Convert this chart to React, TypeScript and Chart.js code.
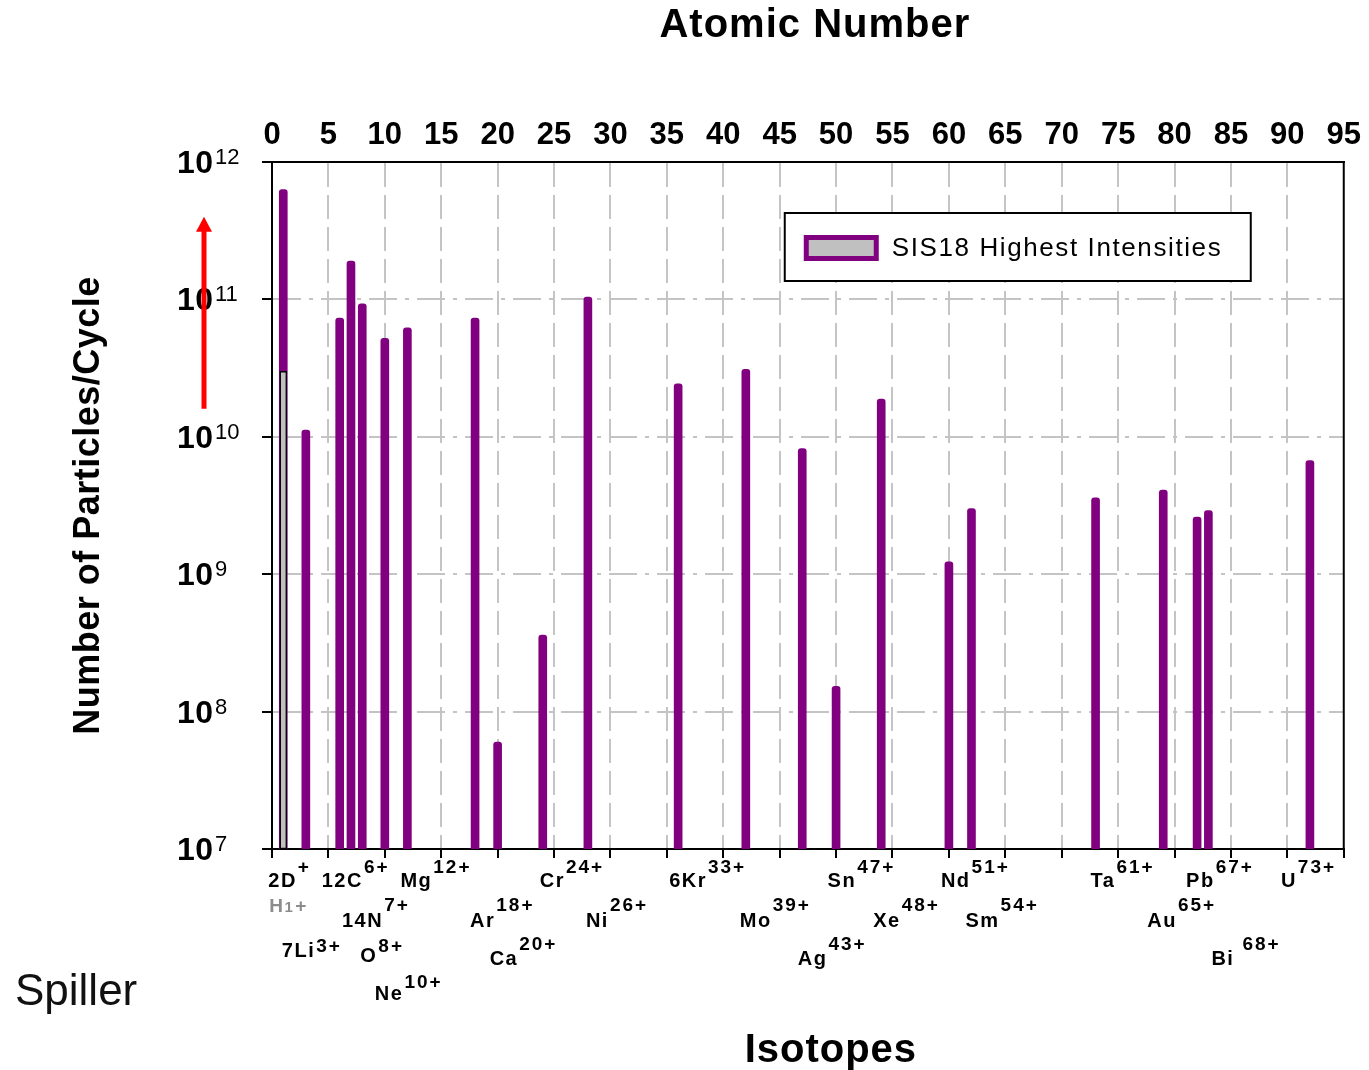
import React, { useEffect, useRef } from 'react';
import { Chart, registerables } from 'chart.js';

Chart.register(...registerables);

// ---------------- data ----------------
const ATOMIC_NUMBERS = [1, 3, 6, 7, 8, 10, 12, 18, 20, 24, 28, 36, 42, 47, 50, 54, 60, 62, 73, 79, 82, 83, 92];
const INTENSITIES = [
  6.3e11, 1.12e10, 7.3e10, 1.9e11, 9.3e10, 5.2e10, 6.2e10, 7.3e10, 6.0e7, 3.6e8, 1.04e11, 2.43e10,
  3.1e10, 8.2e9, 1.53e8, 1.88e10, 1.23e9, 3.0e9, 3.6e9, 4.1e9, 2.6e9, 2.9e9, 6.7e9,
];
const ISOTOPE_NAMES = ['2D', '7Li', '12C', '14N', 'O', 'Ne', 'Mg', 'Ar', 'Ca', 'Cr', 'Ni', '6Kr', 'Mo', 'Ag', 'Sn', 'Xe', 'Nd', 'Sm', 'Ta', 'Au', 'Pb', 'Bi ', 'U'];
const CHARGE_STATES = ['+', '3+', '6+', '7+', '8+', '10+', '12+', '18+', '20+', '24+', '26+', '33+', '39+', '43+', '47+', '48+', '51+', '54+', '61+', '65+', '67+', '68+', '73+'];
const PROTON_Z = [1];
const PROTON_INTENSITY = [3.0e10];
const Y_TICK_EXPONENTS = [7, 8, 9, 10, 11, 12];
const X_MIN = 0;
const X_MAX = 95;
const X_STEP = 5;
const SERIES_LABEL = 'SIS18 Highest Intensities';
const PROTON_LABEL = ['H', '1', '+'];
const ARROW_FROM = 1.6e10;
const ARROW_TO = 4.0e11;
const TOP_TITLE = 'Atomic Number';
const BOTTOM_TITLE = 'Isotopes';
const Y_TITLE = 'Number of Particles/Cycle';
const CORNER_NOTE = 'Spiller';

// ---------------- layout / style ----------------
const W = 1369;
const H = 1070;
const FONT = '"Liberation Sans", Arial, sans-serif';
const PURPLE = '#800080';
const LEGEND_FILL = '#c0c0c0';
// [x offset from bar, base baseline below axis, superscript baseline below axis]
const LABEL_LAYOUT: number[][] = [
  [-15, 38, 24], [-24, 108, 103], [-18, 38, 24], [-9, 78, 62], [-2, 113, 103], [-10, 151, 139],
  [-7, 38, 24], [-5, 78, 62], [-8, 116, 101], [-3, 38, 24], [-2, 78, 62], [-9, 38, 24],
  [-6, 78, 62], [-4.5, 116, 101], [-8.5, 38, 24], [-8, 78, 62], [-8, 38, 24], [-6, 78, 62],
  [-5, 38, 24], [-16, 78, 62], [-11, 38, 24], [3, 116, 101], [-29, 38, 24],
];

const setLS = (ctx: any, v: string) => {
  try { ctx.letterSpacing = v; } catch (e) { /* ignore */ }
};

const annotations = {
  id: 'annotations',
  afterDraw(chart: any) {
    const { ctx, chartArea: ca, scales } = chart;
    const xs = scales.x;
    const ys = scales.y;
    ctx.save();

    // right frame line
    ctx.strokeStyle = '#000';
    ctx.lineWidth = 2;
    ctx.beginPath();
    ctx.moveTo(ca.right, ca.top - 1);
    ctx.lineTo(ca.right, ca.bottom + 1);
    ctx.stroke();

    // y tick labels 10^n
    ctx.fillStyle = '#000';
    ctx.textAlign = 'left';
    ctx.textBaseline = 'alphabetic';
    Y_TICK_EXPONENTS.forEach((e) => {
      const p = ys.getPixelForValue(Math.pow(10, e));
      ctx.font = `bold 32px ${FONT}`;
      setLS(ctx, '0.5px');
      ctx.fillText('10', ca.left - 95, p + 11);
      ctx.font = `22px ${FONT}`;
      setLS(ctx, '0px');
      ctx.fillText(String(e), ca.left - 57, p + 2);
    });

    // isotope labels
    ATOMIC_NUMBERS.forEach((z, i) => {
      const [dx, by, sy] = LABEL_LAYOUT[i];
      const x = xs.getPixelForValue(z) + dx;
      ctx.fillStyle = '#000';
      ctx.font = `bold 20px ${FONT}`;
      setLS(ctx, '1.5px');
      ctx.fillText(ISOTOPE_NAMES[i], x, ca.bottom + by);
      const w = ctx.measureText(ISOTOPE_NAMES[i]).width;
      ctx.font = `bold 19px ${FONT}`;
      setLS(ctx, '2px');
      ctx.fillText(CHARGE_STATES[i], x + w + 1, ca.bottom + sy);
    });
    // proton label (grey)
    {
      let x = xs.getPixelForValue(PROTON_Z[0]) - 14;
      const y = ca.bottom + 63;
      ctx.fillStyle = '#8c8c8c';
      setLS(ctx, '1.5px');
      ctx.font = `bold 19px ${FONT}`;
      ctx.fillText(PROTON_LABEL[0], x, y);
      x += ctx.measureText(PROTON_LABEL[0]).width;
      ctx.font = `bold 15px ${FONT}`;
      ctx.fillText(PROTON_LABEL[1], x, y);
      x += ctx.measureText(PROTON_LABEL[1]).width + 1;
      ctx.font = `bold 19px ${FONT}`;
      ctx.fillText(PROTON_LABEL[2], x, y);
    }
    setLS(ctx, '0px');

    // legend
    const ds = chart.data.datasets[0];
    const lx = ca.right - 559;
    const ly = ca.top + 51;
    ctx.fillStyle = '#fff';
    ctx.fillRect(lx, ly, 466, 68);
    ctx.strokeStyle = '#000';
    ctx.lineWidth = 2;
    ctx.strokeRect(lx, ly, 466, 68);
    ctx.fillStyle = LEGEND_FILL;
    ctx.strokeStyle = ds.borderColor;
    ctx.lineWidth = 5;
    ctx.beginPath();
    ctx.rect(lx + 21.5, ly + 24.5, 70, 21);
    ctx.fill();
    ctx.stroke();
    ctx.fillStyle = '#000';
    ctx.font = `26px ${FONT}`;
    setLS(ctx, '1.6px');
    ctx.fillText(ds.label, lx + 107, ly + 43);
    setLS(ctx, '0px');

    // red arrow
    {
      const ax = ca.left - 68;
      const yb = ys.getPixelForValue(ARROW_FROM);
      const yt = ys.getPixelForValue(ARROW_TO);
      ctx.strokeStyle = '#ff0000';
      ctx.fillStyle = '#ff0000';
      ctx.lineWidth = 5;
      ctx.beginPath();
      ctx.moveTo(ax, yb);
      ctx.lineTo(ax, yt + 12);
      ctx.stroke();
      ctx.beginPath();
      ctx.moveTo(ax, yt);
      ctx.lineTo(ax - 8, yt + 15);
      ctx.lineTo(ax + 8, yt + 15);
      ctx.closePath();
      ctx.fill();
    }

    // titles
    ctx.fillStyle = '#000';
    ctx.textAlign = 'center';
    ctx.font = `bold 40px ${FONT}`;
    setLS(ctx, '1px');
    const cx = (ca.left + ca.right) / 2;
    ctx.fillText(TOP_TITLE, cx + 7, 37);
    ctx.fillText(BOTTOM_TITLE, cx + 23, 1062);
    ctx.save();
    ctx.translate(99, (ca.top + ca.bottom) / 2);
    ctx.rotate(-Math.PI / 2);
    ctx.font = `bold 36px ${FONT}`;
    setLS(ctx, '0.5px');
    ctx.fillText(Y_TITLE, 0, 0);
    ctx.restore();
    setLS(ctx, '0px');
    ctx.textAlign = 'left';
    ctx.font = `44px ${FONT}`;
    ctx.fillStyle = '#111';
    ctx.fillText(CORNER_NOTE, 15, 1005);

    ctx.restore();
  },
};

export default function App() {
  const ref = useRef<HTMLCanvasElement>(null);

  useEffect(() => {
    const canvas = ref.current;
    if (!canvas) return;
    const edgeX = (c: any) =>
      c.tick && (c.tick.value === X_MIN || c.tick.value === X_MAX) ? 'rgba(0,0,0,0)' : '#c4c4c4';
    const edgeY = (c: any) =>
      c.tick && (c.tick.value <= 1e7 * 1.001 || c.tick.value >= 1e12 * 0.999) ? 'rgba(0,0,0,0)' : '#c4c4c4';

    const chart = new Chart(canvas, {
      type: 'bar',
      data: {
        datasets: [
          {
            label: SERIES_LABEL,
            data: ATOMIC_NUMBERS.map((z, i) => ({ x: z, y: INTENSITIES[i] })),
            backgroundColor: PURPLE,
            borderColor: PURPLE,
            borderWidth: 0,
            borderRadius: { topLeft: 3, topRight: 3, bottomLeft: 0, bottomRight: 0 },
            barThickness: 8,
            grouped: false,
            order: 1,
            xAxisID: 'x',
            yAxisID: 'y',
          } as any,
          {
            label: 'H1+',
            data: PROTON_Z.map((z, i) => ({ x: z, y: PROTON_INTENSITY[i] })),
            backgroundColor: '#c0c0c0',
            borderColor: '#000000',
            borderWidth: 1.5,
            borderSkipped: false,
            barThickness: 7,
            grouped: false,
            order: 0,
            xAxisID: 'x',
            yAxisID: 'y',
          } as any,
        ],
      },
      options: {
        responsive: false,
        animation: false,
        devicePixelRatio: 1,
        layout: { padding: { left: 0, right: 24, top: 0, bottom: 0 } },
        plugins: { legend: { display: false }, tooltip: { enabled: false } },
        scales: {
          x: {
            type: 'linear',
            position: 'top',
            min: X_MIN,
            max: X_MAX,
            offset: false,
            ticks: {
              stepSize: X_STEP,
              autoSkip: false,
              maxRotation: 0,
              padding: 8,
              color: '#000',
              font: { family: FONT, size: 31, weight: 'bold' },
            },
            grid: {
              offset: false,
              drawTicks: false,
              color: edgeX,
              lineWidth: 2,
              borderDash: [24, 8],
            },
            border: { display: true, color: '#000', width: 2, dash: [24, 8] },
            afterFit: (s: any) => { s.height = 162; },
          } as any,
          x2: {
            type: 'linear',
            position: 'bottom',
            min: X_MIN,
            max: X_MAX,
            offset: false,
            ticks: { stepSize: X_STEP, autoSkip: false, maxRotation: 0, callback: () => '' },
            grid: {
              offset: false,
              drawOnChartArea: false,
              drawTicks: true,
              tickLength: 9,
              tickColor: '#000',
              tickWidth: 2,
              color: '#000',
              lineWidth: 2,
            },
            border: { display: true, color: '#000', width: 2 },
            afterFit: (s: any) => { s.height = H - 849; },
          } as any,
          y: {
            type: 'logarithmic',
            position: 'left',
            min: 1e7,
            max: 1e12,
            afterBuildTicks: (s: any) => {
              s.ticks = Y_TICK_EXPONENTS.map((e) => ({ value: Math.pow(10, e) }));
            },
            ticks: { callback: () => '', autoSkip: false },
            grid: {
              color: edgeY,
              lineWidth: 2,
              drawTicks: true,
              tickLength: 10,
              tickColor: '#000',
              tickWidth: 2,
              borderDash: [28, 8, 4, 8],
              tickBorderDash: [],
            },
            border: { display: true, color: '#000', width: 2, dash: [28, 8, 4, 8] },
            afterFit: (s: any) => { s.width = 272; },
          } as any,
        },
      } as any,
      plugins: [annotations],
    });
    return () => chart.destroy();
  }, []);

  return (
    <div style={{ position: 'absolute', left: 0, top: 0, width: W, height: H, background: '#fff' }}>
      <canvas ref={ref} width={W} height={H} style={{ display: 'block', width: W, height: H }} />
    </div>
  );
}
